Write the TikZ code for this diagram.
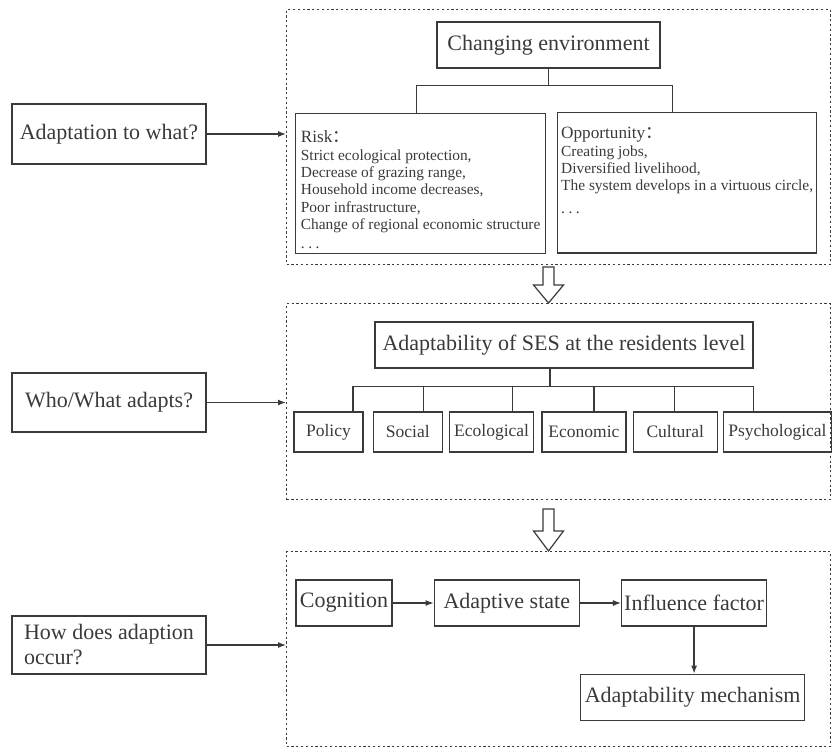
\documentclass[tikz,border=0pt]{standalone}
\usepackage{fontspec}
\setmainfont{Liberation Serif}
\newfontfamily\serif{Liberation Serif}
\newfontfamily\cjk{Noto Sans CJK SC}
\usetikzlibrary{arrows.meta, positioning}
\definecolor{ink}{HTML}{3A3A3A}
\newcommand\spdots{.\hspace{3.5pt}.\hspace{3.5pt}.}

\begin{document}
\begin{tikzpicture}[
    x=1pt, y=-1pt,
    box/.style={draw=ink, line width=1.3pt, inner sep=0pt, text=ink, align=center},
    bigbox/.style={box, font=\serif\fontsize{22}{25}\selectfont, minimum height=46pt},
    smallbox/.style={box, font=\serif\fontsize{17.5}{20}\selectfont, minimum height=40pt},
    listbox/.style={box, align=left, font=\serif\fontsize{15.4}{17.4}\selectfont, anchor=north west},
    frame/.style={draw=ink, line width=1.2pt, dash pattern=on 2.2pt off 2.6pt, inner sep=0pt, anchor=north west},
    link/.style={draw=ink, line width=1.3pt},
    arrow/.style={link, -{Latex[length=8pt,width=6pt]}},
    hollow/.style={draw=ink, line width=1.2pt, fill=white, line join=miter}
]
\useasboundingbox (0,0) rectangle (835,747);

% Dotted frames
\node[frame, minimum width=544pt, minimum height=255pt] (f1) at (286,9) {};
\node[frame, minimum width=544pt, minimum height=196pt] (f2) at (286,303) {};
\node[frame, minimum width=544pt, minimum height=195pt] (f3) at (286,551) {};

% Questions on the left
\node[bigbox, minimum width=194pt, minimum height=60pt] (q1) at (109,134) {Adaptation to what?};
\node[bigbox, minimum width=194pt, minimum height=59pt] (q2) at (109,402.5) {Who/What adapts?};
\node[bigbox, minimum width=194pt, minimum height=58pt, align=left] (q3) at (109,645)
{How does adaption\\occur?};

\draw[arrow] (q1.east) -- (q1.east -| f1.west);
\draw[arrow] (q2.east) -- (q2.east -| f2.west);
\draw[arrow] (q3.east) -- (q3.east -| f3.west);

% Changing environment
\node[bigbox, minimum width=223pt] (env) at (548.5,45) {Changing environment};

\node[listbox, minimum width=250pt, minimum height=140pt] (risk) at (295,113)
{\rule{0pt}{29pt}{\fontsize{17.2}{17.4}\selectfont Risk{\cjk ：}}\\
Strict ecological protection,\\
Decrease of grazing range,\\
Household income decreases,\\
Poor infrastructure,\\
Change of regional economic structure\\[1.6pt]
\spdots\rule[-5pt]{0pt}{5pt}};

\node[listbox, minimum width=259pt, minimum height=139pt] (opp) at (557,112)
{\rule{0pt}{26pt}{\fontsize{17.2}{17.4}\selectfont Opportunity{\cjk ：}}\\
Creating jobs,\\
Diversified livelihood,\\
The system develops in a virtuous circle,\\[5.6pt]
\spdots\rule[-39pt]{0pt}{39pt}};

\draw[link] (env.south) -- ++(0,17) coordinate (bar1);
\draw[link] ([xshift=-4pt]risk.north) |- (bar1);
\draw[link] ([xshift=-15pt]opp.north) |- (bar1);

% Hollow arrow down
\draw[hollow] (env.south |- f2.north) -- ++(-15,-18) -- ++(9.5,0) -- ++(0,-18)
  -- ++(11,0) -- ++(0,18) -- ++(9.5,0) -- cycle;

% Adaptability of SES
\node[bigbox, minimum width=378pt] (adapt) at (564,345) {Adaptability of SES at the residents level};

\node[smallbox, minimum width=69pt] (pol) at (328.5,432) {Policy};
\node[smallbox, minimum width=69pt, right=9pt of pol] (soc) {Social};
\node[smallbox, minimum width=84pt, right=6pt of soc] (eco) {Ecological};
\node[smallbox, minimum width=84pt, right=7pt of eco] (econ) {Economic};
\node[smallbox, minimum width=84pt, right=6pt of econ] (cul) {Cultural};
\node[smallbox, minimum width=108pt, right=5pt of cul] (psy) {Psychological};

\draw[link] ([xshift=-14pt]adapt.south) -- ++(0,18) coordinate (bar2);
\foreach \n/\dx in {pol/24.5, soc/15.5, eco/21, econ/10, cul/-1, psy/-24}
  \draw[link] ([xshift=\dx pt]\n.north) |- (bar2);

% Hollow arrow down
\draw[hollow] (env.south |- f3.north) -- ++(-15,-20) -- ++(9.5,0) -- ++(0,-22)
  -- ++(11,0) -- ++(0,22) -- ++(9.5,0) -- cycle;

% How adaption occurs
\node[bigbox, minimum width=96pt] (cog) at (344,603) {Cognition};
\node[bigbox, minimum width=145pt, right=41pt of cog] (state) {Adaptive state};
\node[bigbox, minimum width=145pt, right=41pt of state] (infl) {Influence factor};
\node[bigbox, minimum width=224pt, below=47pt of infl, xshift=-1.5pt] (mech) {Adaptability mechanism};

\draw[arrow] (cog) -- (state);
\draw[arrow] (state) -- (infl);
\draw[arrow] (infl.south) -- (infl.south |- mech.north);

\end{tikzpicture}
\end{document}
